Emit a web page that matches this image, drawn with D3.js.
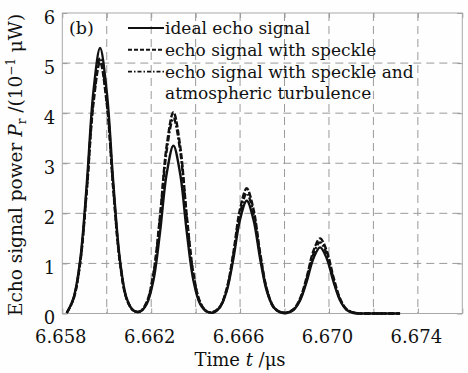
<!DOCTYPE html>
<html>
<head>
<meta charset="utf-8">
<script src="https://cdn.jsdelivr.net/npm/d3@7"></script>
<style>
  html, body { margin: 0; padding: 0; background: #fefefe; }
  svg { display: block; }
  text { font-family: "DejaVu Serif", "Liberation Serif", serif; fill: #111; }
</style>
</head>
<body>
<svg id="chart" width="468" height="373"></svg>
<script>
// Sample times (µs), one every 0.0003 µs
const times = d3.range(51).map(i => +(6.6582 + i * 0.0003).toFixed(4));

// Echo power (10^-1 µW) at each sample time
const idealEcho = [
  0.01, 0.30, 1.05, 2.58, 4.43, 5.30, 4.43, 2.58, 1.05, 0.30,
  0.06, 0.04, 0.19, 0.66, 1.63, 2.80, 3.35, 2.80, 1.63, 0.66,
  0.19, 0.04, 0.02, 0.13, 0.45, 1.10, 1.88, 2.25, 1.88, 1.10,
  0.45, 0.13, 0.02, 0.01, 0.07, 0.26, 0.64, 1.10, 1.32, 1.10,
  0.64, 0.26, 0.07, 0.01, 0, 0, 0, 0, 0, 0, 0
];
const speckleEcho = [
  0.01, 0.28, 0.99, 2.44, 4.19, 5.02, 4.19, 2.44, 0.99, 0.28,
  0.06, 0.04, 0.23, 0.80, 1.96, 3.36, 4.02, 3.36, 1.96, 0.80,
  0.23, 0.04, 0.03, 0.14, 0.50, 1.22, 2.09, 2.50, 2.09, 1.22,
  0.50, 0.14, 0.03, 0.02, 0.08, 0.30, 0.73, 1.25, 1.50, 1.25,
  0.73, 0.30, 0.08, 0.02, 0, 0, 0, 0, 0, 0, 0
];
const turbulenceEcho = [
  0.01, 0.29, 1.01, 2.48, 4.26, 5.10, 4.26, 2.48, 1.01, 0.29,
  0.06, 0.04, 0.22, 0.77, 1.90, 3.26, 3.90, 3.26, 1.90, 0.77,
  0.22, 0.04, 0.03, 0.13, 0.48, 1.17, 2.00, 2.40, 2.00, 1.17,
  0.48, 0.13, 0.03, 0.02, 0.08, 0.28, 0.69, 1.19, 1.42, 1.19,
  0.69, 0.28, 0.08, 0.02, 0, 0, 0, 0, 0, 0, 0
];

const seriesNames = [
  "ideal echo signal",
  "echo signal with speckle",
  "echo signal with speckle and"
];
const legendExtraLine = "atmospheric turbulence";

const xTickValues = [6.658, 6.662, 6.666, 6.670, 6.674];
const xMinorTicks = [6.658, 6.660, 6.662, 6.664, 6.666, 6.668, 6.670, 6.672, 6.674, 6.676];
const yTickValues = [0, 1, 2, 3, 4, 5, 6];

const svg = d3.select("#chart");
const plotLeft = 62.3, plotRight = 462.3, plotTop = 13, plotBottom = 313.5;

const x = d3.scaleLinear().domain([6.658, 6.676]).range([plotLeft, plotRight]);
const y = d3.scaleLinear().domain([0, 6]).range([plotBottom, plotTop]);

const gridColor = "#9a9a9a";

// dashed grid
const grid = svg.append("g");
grid.selectAll("line.vx").data(xMinorTicks.slice(1, -1)).join("line")
  .attr("x1", d => x(d)).attr("x2", d => x(d))
  .attr("y1", plotTop).attr("y2", plotBottom)
  .attr("stroke", gridColor).attr("stroke-width", 1).attr("stroke-dasharray", "8,5");
grid.selectAll("line.hy").data(yTickValues.slice(1, -1)).join("line")
  .attr("x1", plotLeft).attr("x2", plotRight)
  .attr("y1", d => y(d)).attr("y2", d => y(d))
  .attr("stroke", gridColor).attr("stroke-width", 1).attr("stroke-dasharray", "8,5");

// axes with inward ticks on all four sides
const axisStyle = g => {
  g.select(".domain").remove();
  g.selectAll(".tick line").attr("stroke", gridColor);
  g.selectAll(".tick text").style("font-family", '"DejaVu Serif", serif').attr("fill", "#111");
};
svg.append("g").attr("transform", `translate(0,${plotBottom})`)
  .call(d3.axisBottom(x).tickValues(xMinorTicks).tickSizeInner(-5).tickSizeOuter(0).tickFormat(() => ""))
  .call(axisStyle);
svg.append("g").attr("transform", `translate(0,${plotTop})`)
  .call(d3.axisTop(x).tickValues(xMinorTicks).tickSizeInner(-5).tickSizeOuter(0).tickFormat(() => ""))
  .call(axisStyle);
svg.append("g").attr("transform", `translate(0,${plotBottom})`)
  .call(d3.axisBottom(x).tickValues(xTickValues).tickSize(0).tickPadding(17).tickFormat(d3.format(".3f")))
  .call(axisStyle)
  .selectAll(".tick text").attr("font-size", 18).attr("dx", -2);
svg.append("g").attr("transform", `translate(${plotLeft},0)`)
  .call(d3.axisLeft(y).tickValues(yTickValues).tickSizeInner(-5).tickSizeOuter(0).tickPadding(7).tickFormat(d3.format("d")))
  .call(axisStyle)
  .selectAll(".tick text").attr("font-size", 18).attr("dy", "0.57em");
svg.append("g").attr("transform", `translate(${plotRight},0)`)
  .call(d3.axisRight(y).tickValues(yTickValues).tickSizeInner(-5).tickSizeOuter(0).tickFormat(() => ""))
  .call(axisStyle);

// frame
svg.append("rect")
  .attr("x", plotLeft).attr("y", plotTop).attr("width", plotRight - plotLeft).attr("height", plotBottom - plotTop)
  .attr("fill", "none").attr("stroke", "#a8a8a8").attr("stroke-width", 1);

// echo curves
const line = d3.line().x((d, i) => x(times[i])).y(d => y(d)).curve(d3.curveCatmullRom.alpha(0.5));
const styles = [
  { data: idealEcho, dash: null },
  { data: speckleEcho, dash: "6,2" },
  { data: turbulenceEcho, dash: "6,2,2,2" }
];
svg.append("g").selectAll("path").data(styles).join("path")
  .attr("d", d => line(d.data))
  .attr("fill", "none").attr("stroke", "#111").attr("stroke-width", 2.4)
  .attr("stroke-linejoin", "round")
  .attr("stroke-dasharray", d => d.dash);

// panel tag
svg.append("text").attr("x", 69).attr("y", 34).attr("font-size", 17.5).text("(b)");

// legend
const legendDash = [null, "4,2", "4,2,1.5,2"];
const legend = svg.append("g");
seriesNames.forEach((name, i) => {
  const cy = 28 + i * 21.8;
  legend.append("line").attr("x1", 128).attr("x2", 164).attr("y1", cy).attr("y2", cy)
    .attr("stroke", "#111").attr("stroke-width", 1.9).attr("stroke-dasharray", legendDash[i]);
  legend.append("text").attr("x", 165).attr("y", cy + 6).attr("font-size", 17).text(name);
});
legend.append("text").attr("x", 165).attr("y", 28 + 3 * 21.8 + 6).attr("font-size", 17).text(legendExtraLine);

// axis titles
const xt = svg.append("text").attr("x", 240).attr("y", 366).attr("text-anchor", "middle").attr("font-size", 18);
xt.append("tspan").text("Time ");
xt.append("tspan").attr("font-style", "italic").text("t");
xt.append("tspan").text(" /μs");

const yt = svg.append("text").attr("transform", "translate(22,165) rotate(-90)")
  .attr("text-anchor", "middle").attr("font-size", 18.5);
yt.append("tspan").text("Echo signal power ");
yt.append("tspan").attr("font-style", "italic").text("P");
yt.append("tspan").attr("font-size", 12).attr("dy", 4).text("r");
yt.append("tspan").attr("dy", -4).text(" /(10");
yt.append("tspan").attr("font-size", 12).attr("dy", -7).text("−1");
yt.append("tspan").attr("dy", 7).text(" μW)");
</script>
</body>
</html>
